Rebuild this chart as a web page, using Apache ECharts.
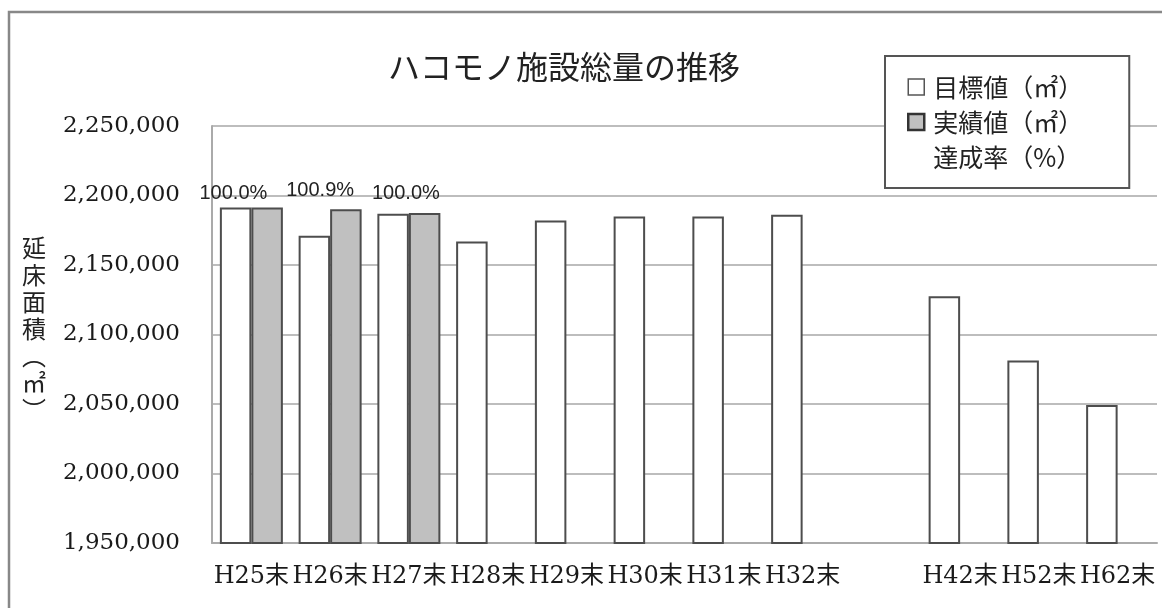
<!DOCTYPE html>
<html lang="ja">
<head>
<meta charset="utf-8">
<title>ハコモノ施設総量の推移</title>
<script src="https://cdn.jsdelivr.net/npm/echarts@6/dist/echarts.min.js"></script>
<style>
  html, body { margin: 0; padding: 0; background: #fff; }
  #chart { width: 1162px; height: 608px; }
</style>
</head>
<body>
<div id="chart"></div>
<script>
// 年度（末）ごとのカテゴリ。H32末とH42末の間は空欄のカテゴリで間隔を空ける
const categories = ['H25末', 'H26末', 'H27末', 'H28末', 'H29末', 'H30末', 'H31末', 'H32末', '', 'H42末', 'H52末', 'H62末'];

// 目標値（㎡）
const targetValues = [2191400, 2171000, 2186800, 2166900, 2182000, 2184900, 2184900, 2186100, null, 2127500, 2081300, 2049300];

// 実績値（㎡）
const actualValues = [2191400, 2190150, 2187500, null, null, null, null, null, null, null, null, null];

// 達成率（%）
const achievementRates = [100.0, 100.9, 100.0, null, null, null, null, null, null, null, null, null];

// 縦軸の目盛
const yMin = 1950000;
const yMax = 2250000;
const yStep = 50000;

const serifFont = "'DejaVu Serif', 'Noto Sans CJK JP', serif";
const cjkFont = "'Noto Sans CJK JP', sans-serif";

const chart = echarts.init(document.getElementById('chart'), null, { renderer: 'canvas' });

const fmt = v => v.toString().replace(/\B(?=(\d{3})+(?!\d))/g, ',');

// 達成率ラベルの横位置の微調整
const rateLabelShift = [-18, -10, -3];

chart.setOption({
  animation: false,
  backgroundColor: '#ffffff',
  title: {
    text: 'ハコモノ施設総量の推移',
    left: 383,
    top: 46,
    textStyle: { fontFamily: cjkFont, fontSize: 32, fontWeight: 'normal', color: '#222' }
  },
  legend: {
    orient: 'vertical',
    left: 885,
    top: 56,
    padding: [18, 46, 18, 22],
    backgroundColor: '#ffffff',
    borderColor: '#555',
    borderWidth: 2,
    itemWidth: 16,
    itemHeight: 16,
    itemGap: 9,
    textStyle: { fontFamily: cjkFont, fontSize: 25, lineHeight: 26, color: '#222', padding: [0, 0, 0, 4] },
    data: [
      { name: '目標値（㎡）', icon: 'rect', itemStyle: { color: '#fff', borderColor: '#555', borderWidth: 1.5 } },
      { name: '実績値（㎡）', icon: 'rect', itemStyle: { color: '#c0c0c0', borderColor: '#333', borderWidth: 2.5 } },
      { name: '達成率（%）', icon: 'rect', itemStyle: { color: 'rgba(0,0,0,0)', borderWidth: 0 } }
    ]
  },
  grid: { left: 212, right: 5, top: 126, bottom: 65, containLabel: false },
  xAxis: {
    type: 'category',
    data: categories,
    axisLine: { show: true, lineStyle: { color: '#aaa', width: 2 } },
    axisTick: { show: false },
    axisLabel: { interval: 0, margin: 22, fontFamily: serifFont, fontSize: 24, color: '#1a1a1a' }
  },
  yAxis: [
    {
      type: 'value',
      min: yMin,
      max: yMax,
      interval: yStep,
      axisLine: { show: true, lineStyle: { color: '#aaa', width: 2 } },
      axisTick: { show: false },
      splitLine: { show: true, lineStyle: { color: '#bdbdbd', width: 2 } },
      axisLabel: { margin: 32, fontFamily: serifFont, fontSize: 23, color: '#1a1a1a', formatter: v => fmt(v) }
    },
    {
      type: 'value',
      min: 0,
      max: 124,
      show: false
    }
  ],
  series: [
    {
      name: '目標値（㎡）',
      type: 'bar',
      data: targetValues,
      barGap: '0%',
      barCategoryGap: '20%',
      itemStyle: { color: '#ffffff', borderColor: '#4d4d4d', borderWidth: 2 }
    },
    {
      name: '実績値（㎡）',
      type: 'bar',
      data: actualValues,
      barGap: '0%',
      barCategoryGap: '20%',
      itemStyle: { color: '#c0c0c0', borderColor: '#4d4d4d', borderWidth: 2 }
    },
    {
      // 達成率は線も点も描かず、値ラベルだけを表示する
      name: '達成率（%）',
      type: 'line',
      yAxisIndex: 1,
      data: achievementRates.map((v, i) => (v == null ? null : {
        value: v,
        label: { offset: [rateLabelShift[i] || 0, 0] }
      })),
      symbol: 'circle',
      symbolSize: 1,
      showSymbol: true,
      lineStyle: { opacity: 0 },
      itemStyle: { color: 'rgba(0,0,0,0)', borderWidth: 0 },
      label: {
        show: true,
        position: 'top',
        distance: 3,
        fontFamily: "'Liberation Sans', Arial, sans-serif",
        fontSize: 20,
        color: '#222',
        formatter: p => Number(p.value).toFixed(1) + '%'
      }
    }
  ],
  graphic: [
    {
      type: 'rect',
      shape: { x: 9, y: 12, width: 1200, height: 700 },
      style: { fill: 'none', stroke: '#888', lineWidth: 2.5 },
      silent: true
    },
    {
      type: 'text',
      left: 22,
      top: 234,
      style: {
        text: '延\n床\n面\n積\n︵\n㎡\n︶',
        fontFamily: cjkFont,
        fontSize: 24,
        lineHeight: 27,
        fill: '#222',
        textAlign: 'left'
      }
    }
  ]
});
</script>
</body>
</html>
